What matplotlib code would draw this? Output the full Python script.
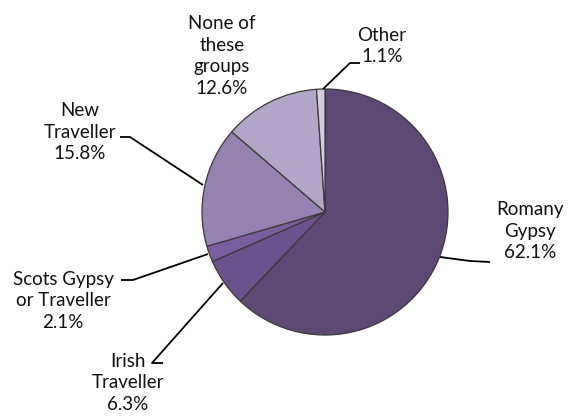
import matplotlib
matplotlib.use("Agg")
import matplotlib.pyplot as plt

# data
groups = ["Romany\nGypsy", "Irish\nTraveller", "Scots Gypsy\nor Traveller",
          "New\nTraveller", "None of\nthese\ngroups", "Other"]
shares = [62.1, 6.3, 2.1, 15.8, 12.6, 1.1]
colors = ["#5D4876", "#6B528C", "#7B5E9E", "#9581B2", "#B1A6C8", "#D3CDE2"]

# label layout in pixel coords (y down): text centre, leader points
label_pos = [(530, 231), (128, 383), (63, 301), (80, 132), (222, 56), (382, 46)]
leaders = [
    [(490, 262), (470, 261), (440, 257)],
    [(163, 363), (152, 363), (223, 283)],
    [(121, 280), (133, 280), (208, 254)],
    [(120, 137), (130, 137), (203, 185)],
    None,
    [(360, 63), (350, 63), (323, 89)],
]

W, H = 572, 420
plt.rcParams["font.family"] = ["Lato", "DejaVu Sans"]

fig = plt.figure(figsize=(W / 100, H / 100), dpi=100)
ax = fig.add_axes([0, 0, 1, 1])

ax.pie(shares, colors=colors, startangle=90, counterclock=False,
       center=(325, H - 212), radius=123, frame=True,
       wedgeprops=dict(edgecolor="#3a3a3a", linewidth=0.9))

for name, val, (x, y), pts in zip(groups, shares, label_pos, leaders):
    ax.text(x, H - y, f"{name}\n{val:.1f}%", ha="center", va="center",
            fontsize=13.5, linespacing=1.33, color="#111111")
    if pts:
        ax.plot([p[0] for p in pts], [H - p[1] for p in pts],
                color="black", linewidth=1.3, solid_capstyle="butt")

ax.set_xlim(0, W)
ax.set_ylim(0, H)
ax.axis("off")

plt.savefig("out.png", dpi=100)
